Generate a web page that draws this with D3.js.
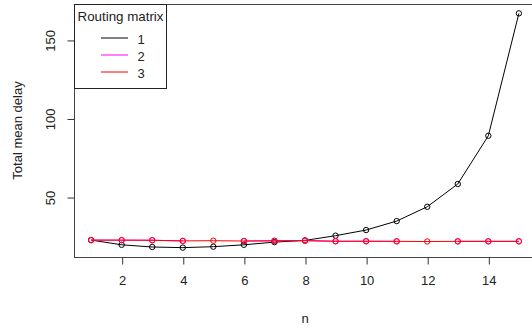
<!DOCTYPE html>
<html>
<head>
<meta charset="utf-8">
<script src="https://cdn.jsdelivr.net/npm/d3@7"></script>
<style>
  html, body { margin: 0; padding: 0; background: #fff; }
  svg { display: block; font-family: "Liberation Sans", Arial, sans-serif; }
</style>
</head>
<body>
<svg id="chart" width="532" height="328"></svg>
<script>
// Total mean delay for each routing matrix, n = 1..15 (null = no value)
const nValues = [1, 2, 3, 4, 5, 6, 7, 8, 9, 10, 11, 12, 13, 14, 15];
const delayMatrix1 = [22.6, 19.6, 18.2, 17.8, 18.4, 19.6, 21.3, 22.4, 25.4, 29.0, 34.7, 43.8, 58.3, 89.0, 166.9];
const delayMatrix2 = [22.6, 22.5, 22.5, 22.0, null, 22.0, 22.2, 22.3, 21.8, 21.8, 21.8, null, 21.8, 21.8, 21.8];
const delayMatrix3 = [22.6, 22.6, 22.5, 22.1, 22.2, 22.0, 22.1, 22.2, 21.9, 21.9, 21.8, 21.7, 21.8, 21.8, 21.8];
const seriesNames = ["1", "2", "3"];
const seriesColors = ["#000000", "#ff00ff", "#ff0000"];
const xTicks = [2, 4, 6, 8, 10, 12, 14];
const yTicks = [50, 100, 150];
const legendTitle = "Routing matrix";
const xLabel = "n";
const yLabel = "Total mean delay";

const allSeries = [delayMatrix1, delayMatrix2, delayMatrix3];
const fontSize = 13;

const svg = d3.select("#chart");
const plot = { left: 74, right: 536, top: 4, bottom: 257 };

// axis ranges padded by 4% on each side
function padded(ext) {
  const d = (ext[1] - ext[0]) * 0.04;
  return [ext[0] - d, ext[1] + d];
}
const xExt = d3.extent(nValues);
const yExt = d3.extent(allSeries.flat().filter(v => v != null));

const x = d3.scaleLinear().domain(padded(xExt)).range([plot.left, plot.right]);
const y = d3.scaleLinear().domain(padded(yExt)).range([plot.bottom, plot.top]);

// plot frame
svg.append("rect")
  .attr("x", plot.left + 0.5).attr("y", plot.top + 0.5)
  .attr("width", plot.right - plot.left).attr("height", plot.bottom - plot.top)
  .attr("fill", "none").attr("stroke", "#444").attr("stroke-width", 1);

// x axis
const xAxis = svg.append("g")
  .attr("transform", `translate(0.5,${plot.bottom + 0.5})`)
  .call(d3.axisBottom(x).tickValues(xTicks).tickSize(7).tickPadding(11).tickFormat(d3.format("d")));
xAxis.select(".domain").remove();
xAxis.selectAll("line").attr("stroke", "#333");
xAxis.selectAll("text").attr("font-size", fontSize).attr("fill", "#222")
  .attr("font-family", "Liberation Sans, Arial, sans-serif");

// y axis with labels rotated parallel to the axis
const yAxis = svg.append("g")
  .attr("transform", `translate(${plot.left + 0.5},0.5)`)
  .call(d3.axisLeft(y).tickValues(yTicks).tickSize(7).tickFormat(d3.format("d")));
yAxis.select(".domain").remove();
yAxis.selectAll("line").attr("stroke", "#333");
yAxis.selectAll("text")
  .attr("font-size", fontSize).attr("fill", "#222")
  .attr("font-family", "Liberation Sans, Arial, sans-serif")
  .attr("x", null).attr("dy", null)
  .attr("text-anchor", "middle")
  .attr("transform", "translate(-24,0) rotate(-90)")
  .attr("dominant-baseline", "central");

// axis titles
svg.append("text")
  .attr("x", (plot.left + plot.right) / 2).attr("y", 318)
  .attr("text-anchor", "middle").attr("dominant-baseline", "central")
  .attr("font-size", fontSize).attr("fill", "#222").text(xLabel);
svg.append("text")
  .attr("transform", `translate(17,${(plot.top + plot.bottom) / 2}) rotate(-90)`)
  .attr("text-anchor", "middle").attr("dominant-baseline", "central")
  .attr("font-size", fontSize).attr("fill", "#222").text(yLabel);

// series: lines through points with open circles
const line = d3.line()
  .defined(d => d.v != null)
  .x(d => x(d.n)).y(d => y(d.v));

allSeries.forEach((vals, i) => {
  const pts = nValues.map((n, j) => ({ n, v: vals[j] }));
  const g = svg.append("g");
  g.append("path").datum(pts)
    .attr("d", line).attr("fill", "none")
    .attr("stroke", seriesColors[i]).attr("stroke-width", 1);
  g.selectAll("circle").data(pts.filter(d => d.v != null)).join("circle")
    .attr("cx", d => x(d.n)).attr("cy", d => y(d.v)).attr("r", 2.7)
    .attr("fill", "none").attr("stroke", seriesColors[i]).attr("stroke-width", 1);
});

// legend box in the top-left corner
const legend = svg.append("g");
legend.append("rect")
  .attr("x", plot.left + 0.5).attr("y", plot.top + 0.5)
  .attr("width", 92).attr("height", 84)
  .attr("fill", "#fff").attr("stroke", "#222").attr("stroke-width", 1);
legend.append("text")
  .attr("x", plot.left + 3.5).attr("y", 16)
  .attr("dominant-baseline", "central")
  .attr("font-size", fontSize).attr("textLength", 86).attr("lengthAdjust", "spacingAndGlyphs")
  .attr("fill", "#222").text(legendTitle);
seriesNames.forEach((name, i) => {
  const ly = 38 + i * 17;
  legend.append("line")
    .attr("x1", 101).attr("x2", 128).attr("y1", ly).attr("y2", ly)
    .attr("stroke", seriesColors[i]).attr("stroke-width", 1);
  legend.append("text")
    .attr("x", 141).attr("y", ly + 1)
    .attr("text-anchor", "middle").attr("dominant-baseline", "central")
    .attr("font-size", fontSize).attr("fill", "#222").text(name);
});
</script>
</body>
</html>
